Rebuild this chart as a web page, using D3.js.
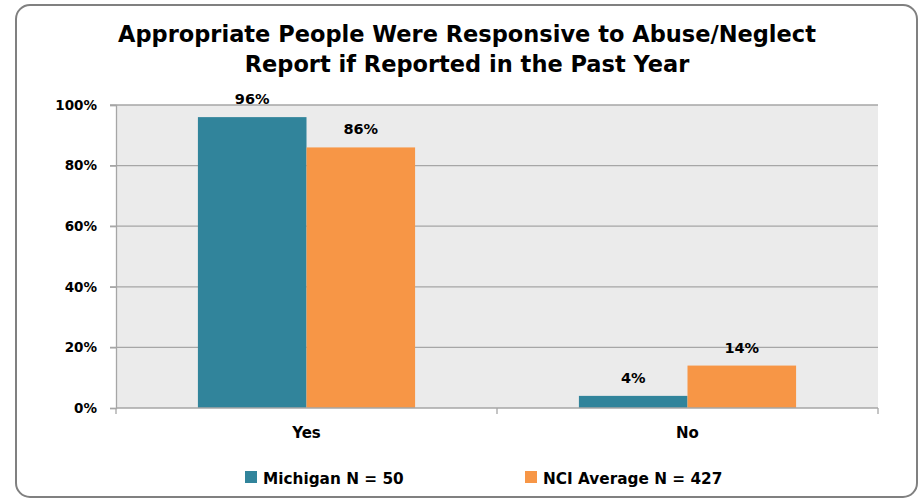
<!DOCTYPE html>
<html>
<head>
<meta charset="utf-8">
<script src="https://cdn.jsdelivr.net/npm/d3@7"></script>
<style>
  body { margin: 0; background: #fff; }
  text { font-family: "DejaVu Sans", Verdana, sans-serif; font-weight: bold; fill: #000; }
</style>
</head>
<body>
<div id="chart"></div>
<script>
const categories = ['Yes', 'No']
const seriesNames = ['Michigan N = 50', 'NCI Average N = 427']
const michigan = [96, 4]
const nciAverage = [86, 14]
const yTicks = [0, 20, 40, 60, 80, 100]
const colors = ['#31849b', '#f79646']

const width = 924
const height = 501
const margin = { top: 105, right: 46, bottom: 93, left: 116 }

const svg = d3.select('#chart').append('svg')
  .attr('width', width)
  .attr('height', height)

// outer frame
svg.append('rect')
  .attr('x', 16).attr('y', 5)
  .attr('width', 901).attr('height', 492)
  .attr('rx', 14)
  .attr('fill', '#fff')
  .attr('stroke', '#808080')
  .attr('stroke-width', 2)

svg.append('text')
  .attr('text-anchor', 'middle')
  .attr('font-size', 22.5)
  .selectAll('tspan')
  .data(['Appropriate People Were Responsive to Abuse/Neglect', 'Report if Reported in the Past Year'])
  .join('tspan')
  .attr('x', 467)
  .attr('y', (d, i) => 42 + i * 30)
  .text(d => d)

const plotW = width - margin.left - margin.right
const plotH = height - margin.top - margin.bottom

const g = svg.append('g')
  .attr('transform', `translate(${margin.left},${margin.top})`)

const x = d3.scaleBand()
  .domain(categories)
  .range([0, plotW])
  .paddingInner(0)
  .paddingOuter(0)

const xInner = d3.scaleBand()
  .domain(seriesNames)
  .range([x.bandwidth() * 0.215, x.bandwidth() * 0.785])

const y = d3.scaleLinear()
  .domain([0, 100])
  .range([plotH, 0])

g.append('rect')
  .attr('width', plotW)
  .attr('height', plotH)
  .attr('fill', '#ebebeb')

// gridlines with ticks
g.append('g')
  .selectAll('line')
  .data(yTicks.filter(d => d > 0))
  .join('line')
  .attr('x1', -6).attr('x2', plotW)
  .attr('y1', d => y(d)).attr('y2', d => y(d))
  .attr('stroke', '#a6a6a6')
  .attr('stroke-width', 1.3)

const yAxis = g.append('g')
  .call(d3.axisLeft(y).tickValues(yTicks).tickFormat(d => d + '%').tickSize(6))
yAxis.select('.domain').attr('stroke', '#a6a6a6').attr('stroke-width', 1.3)
yAxis.selectAll('.tick line').attr('stroke', '#a6a6a6').attr('stroke-width', 1.3)
yAxis.selectAll('.tick text')
  .attr('x', -19)
  .attr('font-size', 13.5)
  .attr('font-family', '"DejaVu Sans", sans-serif')
  .attr('font-weight', 'bold')
  .attr('fill', '#000')

const data = []
categories.forEach((c, i) => {
  data.push({ cat: c, series: seriesNames[0], value: michigan[i], color: colors[0] })
  data.push({ cat: c, series: seriesNames[1], value: nciAverage[i], color: colors[1] })
})

g.selectAll('rect.bar')
  .data(data)
  .join('rect')
  .attr('class', 'bar')
  .attr('x', d => x(d.cat) + xInner(d.series))
  .attr('y', d => y(d.value))
  .attr('width', xInner.bandwidth())
  .attr('height', d => plotH - y(d.value))
  .attr('fill', d => d.color)

g.selectAll('text.val')
  .data(data)
  .join('text')
  .attr('class', 'val')
  .attr('x', d => x(d.cat) + xInner(d.series) + xInner.bandwidth() / 2)
  .attr('y', d => y(d.value) - 13)
  .attr('text-anchor', 'middle')
  .attr('font-size', 14.5)
  .text(d => d.value + '%')

// x axis
const xAxis = g.append('g')
  .attr('transform', `translate(0,${plotH})`)
xAxis.append('line')
  .attr('x1', 0).attr('x2', plotW)
  .attr('stroke', '#a6a6a6').attr('stroke-width', 1.3)
xAxis.selectAll('line.tk')
  .data([0, plotW / 2, plotW])
  .join('line')
  .attr('class', 'tk')
  .attr('x1', d => d).attr('x2', d => d)
  .attr('y1', 0).attr('y2', 6)
  .attr('stroke', '#a6a6a6').attr('stroke-width', 1.3)
xAxis.selectAll('text')
  .data(categories)
  .join('text')
  .attr('x', d => x(d) + x.bandwidth() / 2)
  .attr('y', 30)
  .attr('text-anchor', 'middle')
  .attr('font-size', 15)
  .text(d => d)

// legend
const legendX = [245, 525]
const legend = svg.append('g')
  .selectAll('g')
  .data(seriesNames)
  .join('g')
  .attr('transform', (d, i) => `translate(${legendX[i]},471)`)
legend.append('rect')
  .attr('width', 12).attr('height', 12)
  .attr('fill', (d, i) => colors[i])
legend.append('text')
  .attr('x', 18)
  .attr('y', 12.5)
  .attr('font-size', 15.3)
  .text(d => d)
</script>
</body>
</html>
